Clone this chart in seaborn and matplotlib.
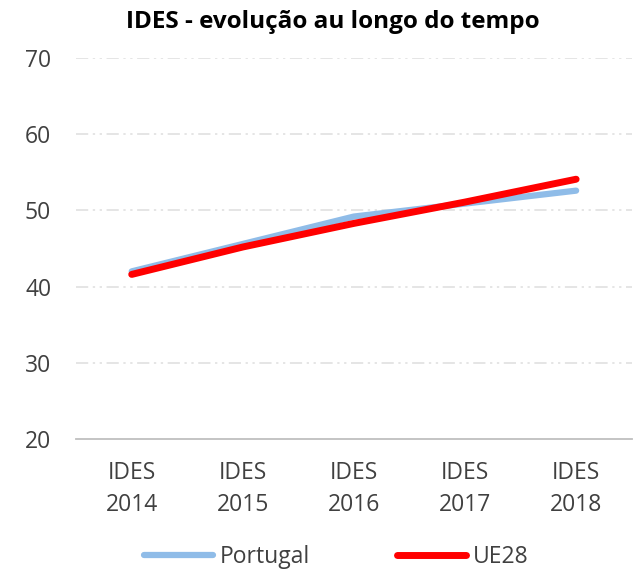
import numpy as np
import pandas as pd
import matplotlib
matplotlib.use("Agg")
import matplotlib.pyplot as plt
import seaborn as sns
from matplotlib.lines import Line2D

anos = ["IDES\n2014", "IDES\n2015", "IDES\n2016", "IDES\n2017", "IDES\n2018"]
portugal = [42.0, 45.6, 49.2, 50.9, 52.6]
ue28 = [41.6, 45.2, 48.3, 51.1, 54.1]

df = pd.DataFrame({
    "ano": anos * 2,
    "valor": portugal + ue28,
    "serie": ["Portugal"] * 5 + ["UE28"] * 5,
})
df["pos"] = list(range(5)) * 2

sns.set_style("white")
plt.rcParams['font.family'] = ['Open Sans', 'DejaVu Sans']

fig = plt.figure(figsize=(6.4, 5.7), dpi=100)
ax = fig.add_axes([0.119, 0.23, 0.868, 0.668])

sns.lineplot(data=df, x="pos", y="valor", hue="serie",
             palette={"Portugal": "#8fbce8", "UE28": "#ff0000"},
             ax=ax, legend=False)
ax.lines[0].set_linewidth(4.5)
ax.lines[1].set_linewidth(5)
for ln in ax.lines:
    ln.set_solid_capstyle("round")

ax.set_ylim(20, 70)
ax.set_xlim(-0.5, 4.5)
ax.set_yticks([20, 30, 40, 50, 60, 70])
ax.set_xticks(range(5))
ax.set_xticklabels(anos)
ax.set_xticks(np.arange(-0.5, 5, 1), minor=True)
ax.tick_params(axis="x", which="major", length=0, pad=16, labelsize=16.5, colors="#404040")
ax.tick_params(axis="x", which="minor", length=6, width=1.2, color="#bfbfbf", direction="out")
ax.tick_params(axis="y", length=0, pad=18, labelsize=16.5, colors="#404040")
for lab in ax.get_xticklabels():
    lab.set_linespacing(1.45)

for y in [30, 40, 50, 60, 70]:
    ax.axhline(y, color="#dedede", lw=1.1, dashes=(8, 3, 1.5, 3, 1.5, 3), zorder=0)

sns.despine(ax=ax, left=True)
ax.spines["bottom"].set_color("#bfbfbf")
ax.spines["bottom"].set_linewidth(1.3)
ax.set_xlabel("")
ax.set_ylabel("")

fig.suptitle("IDES - evolução au longo do tempo", x=0.52, y=0.982,
             fontsize=17.5, fontweight="bold", color="#000000")

handles = [Line2D([], [], color="#8fbce8", lw=4.5, solid_capstyle="round"),
           Line2D([], [], color="#ff0000", lw=5, solid_capstyle="round")]
fig.legend(handles, ["Portugal", "UE28"], loc="lower center", ncol=2,
           bbox_to_anchor=(0.525, -0.035), frameon=False, fontsize=16.5,
           handlelength=3.0, handletextpad=0.3, columnspacing=3.8,
           labelcolor="#404040")

fig.savefig("out.png", dpi=100)
